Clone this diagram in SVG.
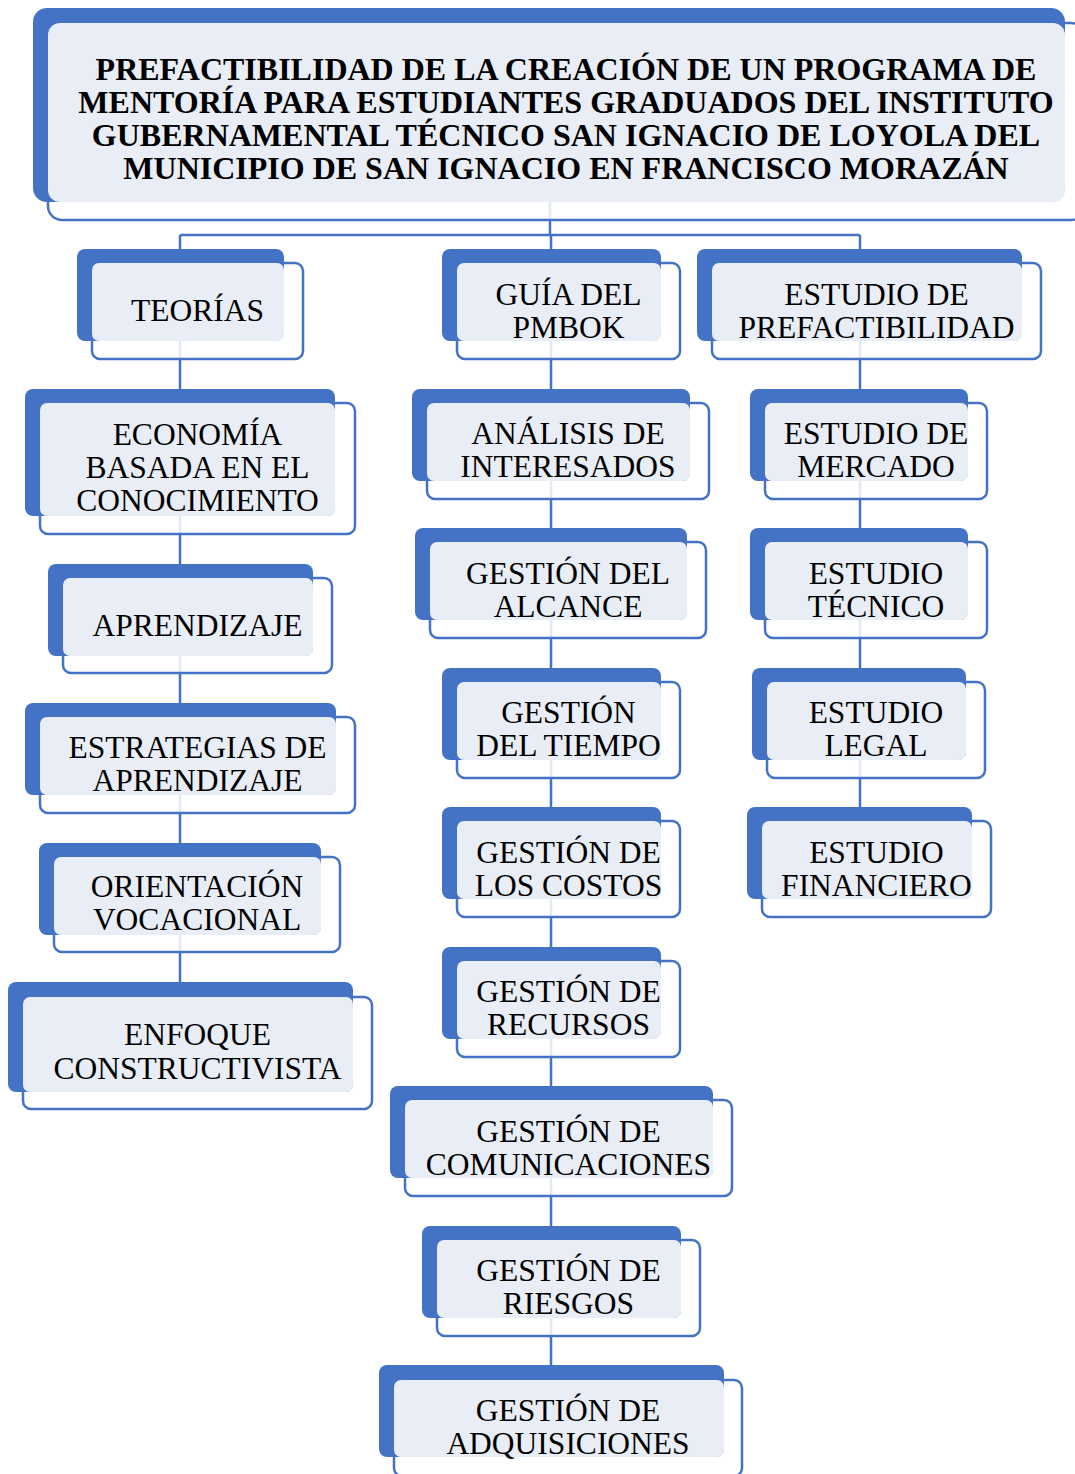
<svg xmlns="http://www.w3.org/2000/svg" width="1075" height="1474" viewBox="0 0 1075 1474">
<style>
.bk{fill:#4472c4}
.fr{fill:#ffffff;fill-opacity:0.85;stroke:#4472c4;stroke-width:2.5}
.lt{fill:#e9edf6}
.t{font-family:"Liberation Serif","Times New Roman",serif;font-size:31.5px;fill:#000;text-anchor:middle}
.tb{font-weight:bold;font-size:32px}
.c{fill:none;stroke:#4472c4;stroke-width:2.5}
</style>
<rect width="1075" height="1474" fill="#fff"/>
<g id="connectors">
<path class="c" d="M550 202V235M180 235H860M180 235V982M551 235V1365M860 235V821"/>
</g>
<g id="title">
<rect class="fr" x="48" y="23" width="1037" height="197" rx="14"/>
<rect class="bk" x="33" y="8" width="1032" height="194" rx="14"/>
<rect class="lt" x="48" y="23" width="1017" height="179" rx="12"/>
<text class="t tb" x="566"><tspan x="566" y="80">PREFACTIBILIDAD DE LA CREACIÓN DE UN PROGRAMA DE</tspan><tspan x="566" y="113">MENTORÍA PARA ESTUDIANTES GRADUADOS DEL INSTITUTO</tspan><tspan x="566" y="146">GUBERNAMENTAL TÉCNICO SAN IGNACIO DE LOYOLA DEL</tspan><tspan x="566" y="179">MUNICIPIO DE SAN IGNACIO EN FRANCISCO MORAZÁN</tspan></text>
</g>
<g id="teorias">
<rect class="fr" x="92" y="263" width="211" height="96" rx="8"/>
<rect class="bk" x="77" y="249" width="207" height="92" rx="8"/>
<rect class="lt" x="92" y="263" width="192" height="78" rx="7"/>
<text class="t" x="197.5" y="321">TEORÍAS</text>
</g>
<g id="economia">
<rect class="fr" x="40" y="403" width="315" height="131" rx="8"/>
<rect class="bk" x="25" y="389" width="310" height="127" rx="8"/>
<rect class="lt" x="40" y="403" width="295" height="113" rx="7"/>
<text class="t"><tspan x="197.5" y="445">ECONOMÍA</tspan><tspan x="197.5" y="478">BASADA EN EL</tspan><tspan x="197.5" y="511">CONOCIMIENTO</tspan></text>
</g>
<g id="aprendizaje">
<rect class="fr" x="63" y="578" width="269" height="95" rx="8"/>
<rect class="bk" x="48" y="564" width="265" height="92" rx="8"/>
<rect class="lt" x="63" y="578" width="250" height="78" rx="7"/>
<text class="t" x="197.5" y="636">APRENDIZAJE</text>
</g>
<g id="estrategias">
<rect class="fr" x="40" y="717" width="315" height="96" rx="8"/>
<rect class="bk" x="25" y="703" width="311" height="92" rx="8"/>
<rect class="lt" x="40" y="717" width="296" height="78" rx="7"/>
<text class="t"><tspan x="197.5" y="758">ESTRATEGIAS DE</tspan><tspan x="197.5" y="791">APRENDIZAJE</tspan></text>
</g>
<g id="orientacion">
<rect class="fr" x="54" y="857" width="286" height="95" rx="8"/>
<rect class="bk" x="39" y="843" width="282" height="92" rx="8"/>
<rect class="lt" x="54" y="857" width="267" height="78" rx="7"/>
<text class="t"><tspan x="197" y="897">ORIENTACIÓN</tspan><tspan x="197" y="930">VOCACIONAL</tspan></text>
</g>
<g id="enfoque">
<rect class="fr" x="23" y="997" width="349" height="112" rx="8"/>
<rect class="bk" x="8" y="982" width="345" height="110" rx="8"/>
<rect class="lt" x="23" y="997" width="330" height="95" rx="7"/>
<text class="t"><tspan x="197.5" y="1045">ENFOQUE</tspan><tspan x="197.5" y="1079">CONSTRUCTIVISTA</tspan></text>
</g>
<g id="pmbok">
<rect class="fr" x="457" y="263" width="223" height="96" rx="8"/>
<rect class="bk" x="442" y="249" width="219" height="92" rx="8"/>
<rect class="lt" x="457" y="263" width="204" height="78" rx="7"/>
<text class="t"><tspan x="568.5" y="305">GUÍA DEL</tspan><tspan x="568.5" y="338">PMBOK</tspan></text>
</g>
<g id="interesados">
<rect class="fr" x="427" y="403" width="282" height="96" rx="8"/>
<rect class="bk" x="412" y="389" width="278" height="92" rx="8"/>
<rect class="lt" x="427" y="403" width="263" height="78" rx="7"/>
<text class="t"><tspan x="568" y="444">ANÁLISIS DE</tspan><tspan x="568" y="477">INTERESADOS</tspan></text>
</g>
<g id="alcance">
<rect class="fr" x="430" y="542" width="276" height="96" rx="8"/>
<rect class="bk" x="415" y="528" width="272" height="92" rx="8"/>
<rect class="lt" x="430" y="542" width="257" height="78" rx="7"/>
<text class="t"><tspan x="568" y="584">GESTIÓN DEL</tspan><tspan x="568" y="617">ALCANCE</tspan></text>
</g>
<g id="tiempo">
<rect class="fr" x="457" y="682" width="223" height="96" rx="8"/>
<rect class="bk" x="442" y="668" width="219" height="92" rx="8"/>
<rect class="lt" x="457" y="682" width="204" height="78" rx="7"/>
<text class="t"><tspan x="568.5" y="723">GESTIÓN</tspan><tspan x="568.5" y="756">DEL TIEMPO</tspan></text>
</g>
<g id="costos">
<rect class="fr" x="457" y="821" width="223" height="96" rx="8"/>
<rect class="bk" x="442" y="807" width="219" height="92" rx="8"/>
<rect class="lt" x="457" y="821" width="204" height="78" rx="7"/>
<text class="t"><tspan x="568.5" y="863">GESTIÓN DE</tspan><tspan x="568.5" y="896">LOS COSTOS</tspan></text>
</g>
<g id="recursos">
<rect class="fr" x="457" y="961" width="223" height="96" rx="8"/>
<rect class="bk" x="442" y="947" width="219" height="92" rx="8"/>
<rect class="lt" x="457" y="961" width="204" height="78" rx="7"/>
<text class="t"><tspan x="568.5" y="1002">GESTIÓN DE</tspan><tspan x="568.5" y="1035">RECURSOS</tspan></text>
</g>
<g id="comunicaciones">
<rect class="fr" x="405" y="1100" width="327" height="96" rx="8"/>
<rect class="bk" x="390" y="1086" width="323" height="92" rx="8"/>
<rect class="lt" x="405" y="1100" width="308" height="78" rx="7"/>
<text class="t"><tspan x="568.5" y="1142">GESTIÓN DE</tspan><tspan x="568.5" y="1175">COMUNICACIONES</tspan></text>
</g>
<g id="riesgos">
<rect class="fr" x="437" y="1240" width="263" height="96" rx="8"/>
<rect class="bk" x="422" y="1226" width="259" height="92" rx="8"/>
<rect class="lt" x="437" y="1240" width="244" height="78" rx="7"/>
<text class="t"><tspan x="568.5" y="1281">GESTIÓN DE</tspan><tspan x="568.5" y="1314">RIESGOS</tspan></text>
</g>
<g id="adquisiciones">
<rect class="fr" x="394" y="1380" width="348" height="96" rx="8"/>
<rect class="bk" x="379" y="1365" width="345" height="92" rx="8"/>
<rect class="lt" x="394" y="1380" width="330" height="77" rx="7"/>
<text class="t"><tspan x="568" y="1421">GESTIÓN DE</tspan><tspan x="568" y="1454">ADQUISICIONES</tspan></text>
</g>
<g id="prefactibilidad">
<rect class="fr" x="712" y="263" width="329" height="96" rx="8"/>
<rect class="bk" x="697" y="249" width="325" height="92" rx="8"/>
<rect class="lt" x="712" y="263" width="310" height="78" rx="7"/>
<text class="t"><tspan x="876.5" y="305">ESTUDIO DE</tspan><tspan x="876.5" y="338">PREFACTIBILIDAD</tspan></text>
</g>
<g id="mercado">
<rect class="fr" x="765" y="403" width="222" height="96" rx="8"/>
<rect class="bk" x="750" y="389" width="218" height="92" rx="8"/>
<rect class="lt" x="765" y="403" width="203" height="78" rx="7"/>
<text class="t"><tspan x="876" y="444">ESTUDIO DE</tspan><tspan x="876" y="477">MERCADO</tspan></text>
</g>
<g id="tecnico">
<rect class="fr" x="765" y="542" width="222" height="96" rx="8"/>
<rect class="bk" x="750" y="528" width="218" height="92" rx="8"/>
<rect class="lt" x="765" y="542" width="203" height="78" rx="7"/>
<text class="t"><tspan x="876" y="584">ESTUDIO</tspan><tspan x="876" y="617">TÉCNICO</tspan></text>
</g>
<g id="legal">
<rect class="fr" x="767" y="682" width="218" height="96" rx="8"/>
<rect class="bk" x="752" y="668" width="214" height="92" rx="8"/>
<rect class="lt" x="767" y="682" width="199" height="78" rx="7"/>
<text class="t"><tspan x="876" y="723">ESTUDIO</tspan><tspan x="876" y="756">LEGAL</tspan></text>
</g>
<g id="financiero">
<rect class="fr" x="762" y="821" width="229" height="96" rx="8"/>
<rect class="bk" x="747" y="807" width="225" height="92" rx="8"/>
<rect class="lt" x="762" y="821" width="210" height="78" rx="7"/>
<text class="t"><tspan x="876.5" y="863">ESTUDIO</tspan><tspan x="876.5" y="896">FINANCIERO</tspan></text>
</g>
</svg>
